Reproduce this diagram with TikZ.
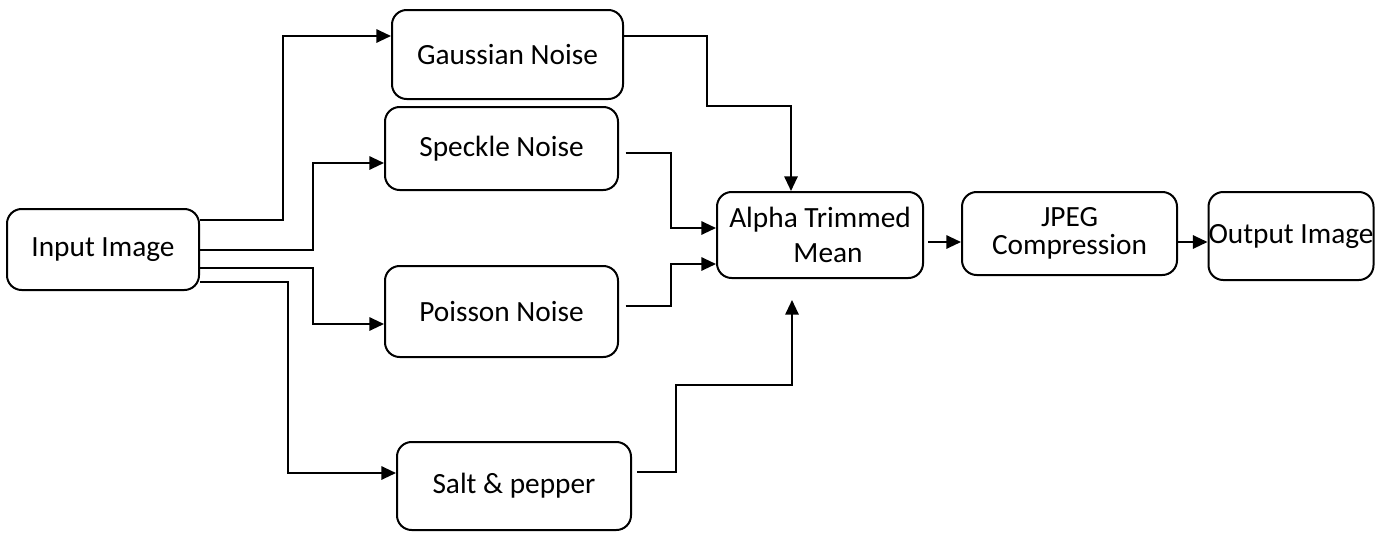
\documentclass[tikz,border=0pt]{standalone}
\usepackage{fontspec}
\setmainfont{Carlito}
\usetikzlibrary{arrows.meta}

\begin{document}
\begin{tikzpicture}[x=0.75pt,y=-0.75pt,>={Triangle[length=11pt,width=10pt]},
  line width=1.5pt,
  box/.style={draw,rounded corners=11pt,align=center,inner sep=1pt,font=\fontsize{22}{26}\selectfont},
  link/.style={->,line width=1.5pt}]
\useasboundingbox (0,0) rectangle (1384,532);
% source and noise models
\node[box,minimum width=144pt,minimum height=60.75pt] (input) at (103,249.5) {Input Image};
\node[box,minimum width=173.25pt,minimum height=66.75pt] (gauss) at (507.5,54.5) {Gaussian Noise};
\node[box,minimum width=174.75pt,minimum height=62.25pt] (speckle) at (501.5,148.5) {Speckle Noise};
\node[box,minimum width=174.75pt,minimum height=68.25pt] (poisson) at (501.5,311.5) {Poisson Noise};
\node[box,minimum width=175.5pt,minimum height=66pt] (salt) at (514,486) {Salt \& pepper};
% filter and compression chain
\node[box,minimum width=154.5pt,minimum height=64.5pt,text depth=0pt] (alpha) at (820,235) {Alpha Trimmed\\\hspace*{12pt}Mean};
\node[box,minimum width=161.25pt,minimum height=62.25pt,font=\fontsize{22}{20.5}\selectfont] (jpeg) at (1069.5,233.5) {JPEG\\Compression};
\node[box,minimum width=123pt,minimum height=66pt,inner sep=0pt] (output) at (1291,236) {Output Image};
% input fan-out
\draw[link] (input.east |- 0,220) -| (283,36) -- (gauss.west |- 0,36);
\draw[link] (input.east |- 0,250) -| (313,163) -- (speckle.west |- 0,163);
\draw[link] (input.east |- 0,268) -| (313,324) -- (poisson.west |- 0,324);
\draw[link] (input.east |- 0,282) -| (288,473) -- (salt.west |- 0,473);
% noisy images into the filter
\draw[link] (gauss.east |- 0,36) -| (707,106) -| (791,0 |- alpha.north);
\draw[link,shorten <=5pt] (speckle.east |- 0,153) -| (671,228) -- (alpha.west |- 0,228);
\draw[link,shorten <=5pt] (poisson.east |- 0,306) -| (671,264) -- (alpha.west |- 0,264);
\draw[link,shorten <=4pt,shorten >=15.75pt] (salt.east |- 0,472) -| (676,385) -| (792,0 |- alpha.south);
% output chain
\draw[link,shorten <=3pt] (alpha.east |- 0,242) -- (jpeg.west |- 0,242);
\draw[link] (jpeg.east |- 0,242) -- (output.west |- 0,242);
\end{tikzpicture}
\end{document}
